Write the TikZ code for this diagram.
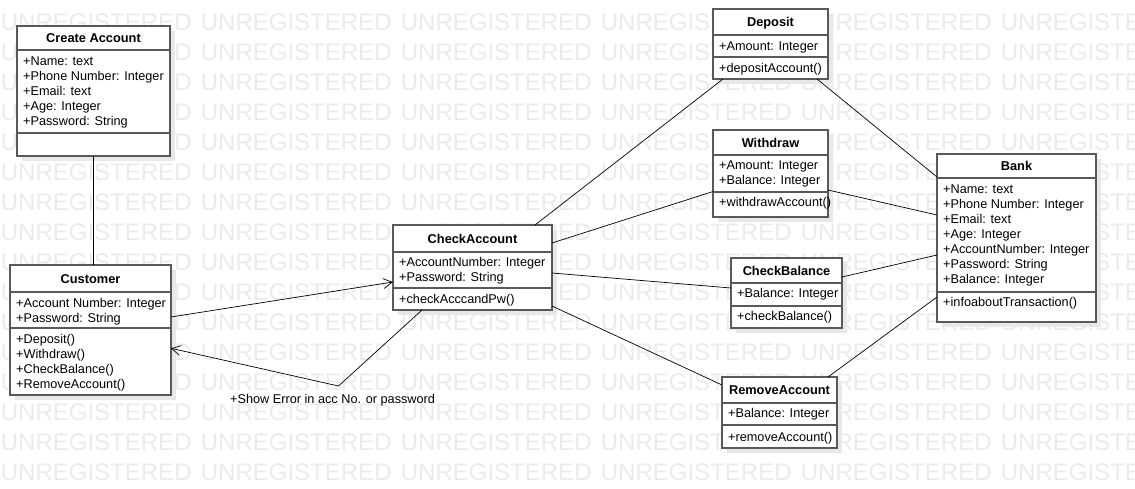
\documentclass[tikz,border=0pt]{standalone}
\usepackage{fontspec}
\setmainfont{Liberation Sans}
\usetikzlibrary{shadows,arrows.meta}
\tikzset{
  wm/.style={text=black!8, font=\fontsize{24}{24}\selectfont, inner sep=0pt, anchor=base west},
  cls/.style={draw=black!65, line width=1.2pt, fill=white, inner sep=0pt, outer sep=0pt,
    drop shadow={shadow xshift=5pt, shadow yshift=-5pt, fill=black!9, opacity=1}},
  sep/.style={draw=black!65, line width=1.2pt},
  ttl/.style={font=\fontsize{12.8}{15}\selectfont\bfseries, inner sep=0pt, anchor=base},
  txt/.style={font=\fontsize{12.7}{15}\selectfont, inner sep=0pt, anchor=base west},
  conn/.style={draw=black, line width=0.7pt},
  openarrow/.style={-{Straight Barb[length=9pt,width=10pt]}}
}
\newcommand\umlbox[8]{%
  \node[cls, anchor=north west, minimum width={#4-#2}, minimum height={#5-#3}] (#1) at (#2,#3) {};
  \draw[sep] (#2,#6) -- (#4,#6);
  \draw[sep] (#2,#7) -- (#4,#7);
  \node[ttl] at ({(#2+#4)/2},{(#3+#6)/2+4.7}) {#8};
}
\newcommand\rows[3]{%
  \foreach \rowtext [count=\i from 0] in {#3} {\node[txt] at (#1,{#2+15*\i}) {\rowtext};}%
}
\begin{document}
\begin{tikzpicture}[x=1pt,y=-1pt]
\useasboundingbox (0,0) rectangle (1135,488);
\begin{scope}
\clip (0,0) rectangle (1135,488);
\foreach \r in {0,...,15} {
  \foreach \c in {0,...,5} {
    \node[wm] at ({0.7+200*\c},{30+30*\r}) {UNREGISTERED};
  }
}
\end{scope}

\umlbox{ca}{17}{26}{170}{156}{50}{133}{Create Account}
\rows{23}{65.5}{+Name: text, +Phone Number: Integer, +Email: text, +Age: Integer, +Password: String}

\umlbox{cu}{10}{265}{171}{395}{292}{328}{Customer}
\rows{16}{307}{+Account Number: Integer, +Password: String}
\rows{16}{343}{+Deposit(), +Withdraw(), +CheckBalance(), +RemoveAccount()}

\umlbox{ck}{393}{225}{552}{310}{252}{288}{CheckAccount}
\rows{399}{266.5}{+AccountNumber: Integer, +Password: String}
\rows{399}{303}{+checkAcccandPw()}

\umlbox{de}{713}{9}{828}{79}{35}{57}{Deposit}
\rows{719}{50}{+Amount: Integer}
\rows{719}{72.5}{+depositAccount()}

\umlbox{wi}{713}{130}{828}{217}{155}{192}{Withdraw}
\rows{719}{169.5}{+Amount: Integer, +Balance: Integer}
\rows{719}{206.5}{+withdrawAccount()}

\umlbox{cb}{731}{258}{842}{328}{283}{306}{CheckBalance}
\rows{737}{297.5}{+Balance: Integer}
\rows{737}{320.5}{+checkBalance()}

\umlbox{ra}{722}{377}{837}{448}{403}{425}{RemoveAccount}
\rows{728}{417.5}{+Balance: Integer}
\rows{728}{441.5}{+removeAccount()}

\umlbox{ba}{937}{154}{1096}{322}{178}{292}{Bank}
\rows{943}{193.5}{+Name: text, +Phone Number: Integer, +Email: text, +Age: Integer, +AccountNumber: Integer, +Password: String, +Balance: Integer}
\rows{943}{306.5}{+infoaboutTransaction()}

% connectors
\draw[conn] (ca.south) -- (ca.south |- cu.north);
\draw[conn, openarrow] ([yshift=13pt]cu.east) -- ([yshift=-14.5pt]ck.west);
\coordinate (bend) at (338.5,386);
\draw[conn, openarrow] ([xshift=29pt]ck.south west) -- (bend) -- ([yshift=-18.3pt]cu.east);
\node[txt] (lbl) at (230,403) {+Show Error in acc No. or password};

\draw[conn] ([xshift=-17pt]ck.north east) -- ([xshift=10pt]de.south west);
\draw[conn] ([yshift=24.5pt]ck.east) -- ([yshift=-18pt]wi.west);
\draw[conn] ([yshift=-5.5pt]ck.east) -- ([yshift=5pt]cb.west);
\draw[conn] ([yshift=-38.5pt]ck.east) -- ([yshift=27.5pt]ra.west);

\draw[conn] ([xshift=-11pt]de.south east) -- ([yshift=-23pt]ba.north west);
\draw[conn] ([yshift=-16.5pt]wi.east) -- ([yshift=23pt]ba.west);
\draw[conn] ([yshift=16pt]cb.east) -- ([yshift=-17pt]ba.west);
\draw[conn] ([xshift=-9pt]ra.north east) -- ([yshift=-59pt]ba.west);
\end{tikzpicture}
\end{document}
